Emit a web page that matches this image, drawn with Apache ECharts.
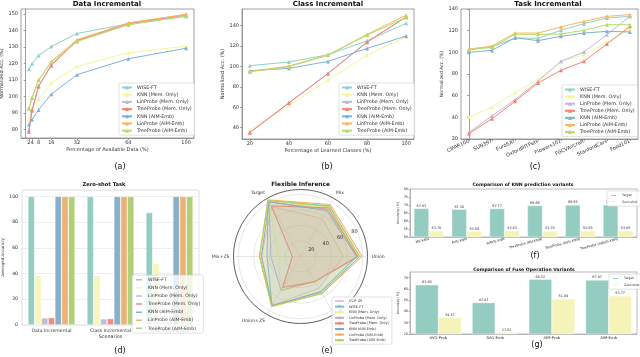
<!DOCTYPE html>
<html><head><meta charset="utf-8">
<script src="https://cdn.jsdelivr.net/npm/echarts@6/dist/echarts.min.js"></script>
<style>html,body{margin:0;padding:0;background:#fff}#c{width:640px;height:357px}</style>
</head><body><div id="c"></div>
<script>
// ---------- data ----------
const methods = ['WISE-FT','KNN (Mem. Only)','LinProbe (Mem. Only)','TreeProbe (Mem. Only)','KNN (AIM-Emb)','LinProbe (AIM-Emb)','TreeProbe (AIM-Emb)'];

// (a) Data Incremental
const aX = [2,4,8,16,32,64,100];
const aYTicks = [80,90,100,110,120,130,140,150];
const aWiseFT = [116.5,119.9,124.9,130.3,138.2,144,148.6];
const aKnnMem = [86,93,98.3,108.3,118.3,126.5,130.5];
const aLinMem = [80,91.5,106,119.5,133.5,144,149.2];
const aTreeMem = [78.8,91.8,106.3,118.9,134,144.4,149.6];
const aKnnAim = [83.2,86.2,92,101.5,113.3,122.9,129.3];
const aLinAim = [92.8,99.3,110,121.3,134.4,144.6,149.8];
const aTreeAim = [92.8,99.3,109.9,120.9,133.4,143.4,148.6];

// (b) Class Incremental
const bX = [20,40,60,80,100];
const bYTicks = [40,60,80,100,120,140];
const bWiseFT = [100.6,104.2,111.3,125,142];
const bKnnMem = [37.7,61.8,86.6,111,129];
const bLinMem = [35.5,64,93,124,148];
const bTreeMem = [35,64.4,93,123.5,148.5];
const bKnnAim = [95.7,98,104.8,117.5,129.6];
const bLinAim = [95,100.3,111,131.2,150];
const bTreeAim = [94.7,99.6,111,130.5,147.8];

// (c) Task Incremental
const cCats = ['CIFAR100','SUN397','EuroSAT','OxfordIIITPets','Flowers102','FGCVAircraft','StanfordCars','Food101'];
const cWiseFT = [102.5,105,113.2,113,120.3,126.5,131.7,133.2];
const cKnnMem = [40.3,49.5,63,74.8,91.4,97.8,109.2,121.5];
const cLinMem = [26.2,41.5,56.3,73.2,91.7,100.3,116.3,133.2];
const cTreeMem = [25,38.8,54.8,71.7,83.4,91.7,107.7,124];
const cKnnAim = [100,101.8,113.5,110.8,114.8,117.8,119.4,118.8];
const cLinAim = [103,105.8,117.8,117.8,123.4,128.6,133.2,134.8];
const cTreeAim = [102.5,104.6,116.6,116.6,117,120.3,125.5,125.5];

// (d) Zero-shot Task
const dCats = ['Data Incremental','Class Incremental','Task Incremental'];
const dWiseFT = [100,100,87.5];
const dKnnMem = [38.5,38.5,48];
const dLinMem = [5.5,4.8,2.5];
const dTreeMem = [5.8,5,2.5];
const dKnnAim = [100,100,100];
const dLinAim = [100,100,100];
const dTreeAim = [100,100,100];

// (e) Flexible Inference (radar)
const eAxes = ['Union','Mix','Target','Mix+ZS','Union+ZS',''];
const eNames = ['CLIP ZS'].concat(methods);
const eClip = [55,56,74,50,72,47];
const eWiseFT = [76,75,83,43,73,53];
const eKnnMem = [75,72,83,28,52,38];
const eLinMem = [74,70,81,38,50,37];
const eTreeMem = [73,72,75,10.5,46,37];
const eKnnAim = [72,68,81,50,73,52];
const eLinAim = [79,77,84,52,74,55];
const eTreeAim = [76,74,83,53,74,55];

// (f) KNN prediction variants
const fCats = ['MV-KNN','AVG-KNN','WAVG-KNN','TreeProbe (MV-KNN)','TreeProbe (AVG-KNN)','TreeProbe (WAVG-KNN)'];
const fTarget = [67.83,67.30,67.77,69.69,69.95,70.09];
const fZero = [53.78,53.59,53.83,53.78,53.85,53.85];

// (g) Fuse operation variants
const gCats = ['AVG-Prob','AVG-Emb','AIM-Prob','AIM-Emb'];
const gTarget = [63.60,47.87,68.52,67.87];
const gZero = [34.57,21.52,51.04,53.77];

// ---------- styles ----------
const FONT = 'DejaVu Sans';
const lineColors = ['#8dd3c7','#f5f59c','#bebada','#fb8072','#80b1d3','#fdb462','#b3de69'];
const barColors = ['#94ccc1','#f5f5bc','#bfbcd6','#ea8d83','#8aafc8','#eab375','#afcf78'];
const radarColors = ['#f6bcd3','#6cc9c0','#f0f08c','#b4b0d6','#f47c70','#7aaad0','#f9ab55','#a9d65e'];
const pairColors = ['#94ccc1','#f5f3b8'];

const aSets = [aWiseFT,aKnnMem,aLinMem,aTreeMem,aKnnAim,aLinAim,aTreeAim];
const bSets = [bWiseFT,bKnnMem,bLinMem,bTreeMem,bKnnAim,bLinAim,bTreeAim];
const cSets = [cWiseFT,cKnnMem,cLinMem,cTreeMem,cKnnAim,cLinAim,cTreeAim];
const dSets = [dWiseFT,dKnnMem,dLinMem,dTreeMem,dKnnAim,dLinAim,dTreeAim];
const eSets = [eClip,eWiseFT,eKnnMem,eLinMem,eTreeMem,eKnnAim,eLinAim,eTreeAim];

const chart = echarts.init(document.getElementById('c'), null, {renderer:'canvas'});

function grid(l,t,w,h,bc){return {left:l,top:t,width:w,height:h,show:true,borderColor:bc,borderWidth:0.8,backgroundColor:'transparent',containLabel:false,outerBoundsMode:'none'};}
const spine = {lineStyle:{color:'#888',width:0.8}};
const lbl = (fs)=>({fontSize:fs,color:'#333',fontFamily:FONT});

const grids = [
  grid(21,9,173,129,'#888'),
  grid(242,9,172,130,'#888'),
  grid(461,9,177,130,'#888'),
  grid(22,190,177,135,'#d8d8d8'),
  grid(410,189,227,48,'#aaa'),
  grid(410,272,227,62,'#aaa')
];

const xAxes = [
  {gridIndex:0,type:'value',min:-2.9,max:104.9,axisLine:{show:true,...spine},
   axisTick:{show:true,length:2,customValues:aX,...spine},axisLabel:{customValues:aX,margin:2,...lbl(5)},splitLine:{show:false},
   name:'Percentage of Available Data (%)',nameLocation:'middle',nameGap:9,nameTextStyle:lbl(5)},
  {gridIndex:1,type:'value',min:16,max:104,axisLine:{show:true,...spine},
   axisTick:{show:true,length:2,customValues:bX,...spine},axisLabel:{customValues:bX,margin:2,...lbl(5)},splitLine:{show:false},
   name:'Percentage of Learned Classes (%)',nameLocation:'middle',nameGap:9,nameTextStyle:lbl(5)},
  {gridIndex:2,type:'value',min:-0.35,max:7.35,axisLine:{show:true,...spine},
   axisTick:{show:true,length:2,customValues:cCats.map((c,i)=>i),...spine},
   axisLabel:{customValues:cCats.map((c,i)=>i),formatter:v=>cCats[Math.round(v)]||'',rotate:25,margin:2,...lbl(5)},splitLine:{show:false}},
  {gridIndex:3,type:'category',data:dCats,axisLine:{show:false},axisTick:{show:false},axisLabel:{margin:3,...lbl(4.6)},
   name:'Scenarios',nameLocation:'middle',nameGap:9,nameTextStyle:lbl(4.8)},
  {gridIndex:4,type:'category',data:fCats,axisLine:{show:true,lineStyle:{color:'#aaa',width:0.8}},axisTick:{show:false},
   axisLabel:{rotate:15,margin:2,interval:0,...lbl(3.4)}},
  {gridIndex:5,type:'category',data:gCats,axisLine:{show:true,lineStyle:{color:'#aaa',width:0.8}},axisTick:{show:false},
   axisLabel:{margin:2,interval:0,...lbl(3.8)}}
];

const yAxes = [
  {gridIndex:0,type:'value',min:75,max:153,axisLine:{show:true,...spine},axisTick:{show:true,length:2,customValues:aYTicks,...spine},
   axisLabel:{customValues:aYTicks,margin:3,...lbl(5)},splitLine:{show:false},
   name:'Normalized Acc. (%)',nameLocation:'middle',nameGap:14,nameTextStyle:lbl(5)},
  {gridIndex:1,type:'value',min:29,max:156,axisLine:{show:true,...spine},axisTick:{show:true,length:2,customValues:bYTicks,...spine},
   axisLabel:{customValues:bYTicks,margin:3,...lbl(5)},splitLine:{show:false},
   name:'Normalized Acc. (%)',nameLocation:'middle',nameGap:16,nameTextStyle:lbl(5)},
  {gridIndex:2,type:'value',min:20,max:140,interval:20,axisLine:{show:true,...spine},axisTick:{show:true,length:2,...spine},
   axisLabel:{margin:3,...lbl(5)},splitLine:{show:false},
   name:'Normalized Acc. (%)',nameLocation:'middle',nameGap:15,nameTextStyle:lbl(4.6)},
  {gridIndex:3,type:'value',min:0,max:105,interval:20,axisLine:{show:false},axisTick:{show:false},
   axisLabel:{margin:4,showMaxLabel:false,...lbl(4.6)},splitLine:{show:true,lineStyle:{color:'#e8e8e8',width:0.8}},
   name:'Averaged Accuracy',nameLocation:'middle',nameGap:15,nameTextStyle:lbl(4)},
  {gridIndex:4,type:'value',min:50,max:80,interval:5,axisLine:{show:true,lineStyle:{color:'#aaa',width:0.8}},axisTick:{show:true,length:1.5,lineStyle:{color:'#aaa'}},
   axisLabel:{margin:2,...lbl(3.4)},splitLine:{show:false},
   name:'Accuracy (%)',nameLocation:'middle',nameGap:9,nameTextStyle:lbl(3.4)},
  {gridIndex:5,type:'value',min:20,max:75,interval:10,axisLine:{show:true,lineStyle:{color:'#aaa',width:0.8}},axisTick:{show:true,length:1.5,lineStyle:{color:'#aaa'}},
   axisLabel:{margin:2,showMaxLabel:false,...lbl(3.4)},splitLine:{show:false},
   name:'Accuracy (%)',nameLocation:'middle',nameGap:9,nameTextStyle:lbl(3.4)}
];

const series = [];
function addLines(sets, tag, axisIdx, xs){
  sets.forEach((vals,i)=>{
    series.push({type:'line',name:methods[i]+'|'+tag,xAxisIndex:axisIdx,yAxisIndex:axisIdx,
      data:vals.map((v,j)=>[xs[j],v]),symbol:'triangle',symbolSize:4,
      lineStyle:{width:1,color:lineColors[i]},itemStyle:{color:lineColors[i]},color:lineColors[i],z:2+i*0.01});
  });
}
addLines(aSets,'a',0,aX);
addLines(bSets,'b',1,bX);
addLines(cSets,'c',2,cCats.map((c,i)=>i));

dSets.forEach((vals,i)=>{
  series.push({type:'bar',name:methods[i]+'|d',xAxisIndex:3,yAxisIndex:3,data:vals,
    barGap:'0%',barCategoryGap:'20%',itemStyle:{color:barColors[i],borderColor:'#fff',borderWidth:0.5},color:barColors[i]});
});

eSets.forEach((vals,i)=>{
  const closed = vals.concat([vals[0]]);
  series.push({type:'line',coordinateSystem:'polar',polarIndex:0,name:eNames[i]+'|e',
    data:closed.map((v,j)=>[v,j*60]),symbol:'none',
    lineStyle:{width:1,color:radarColors[i]},itemStyle:{color:radarColors[i]},color:radarColors[i],
    areaStyle:{color:radarColors[i],opacity:0.11},z:2+i*0.01});
});

const valLbl = {show:true,position:'top',distance:1,formatter:p=>p.value.toFixed(2),fontSize:3.4,color:'#333',fontFamily:FONT};
series.push({type:'bar',name:'Target|f',xAxisIndex:4,yAxisIndex:4,data:fTarget,barWidth:15,barGap:'0%',
  itemStyle:{color:pairColors[0],borderColor:'#fff',borderWidth:0.4},color:pairColors[0],label:valLbl});
series.push({type:'bar',name:'Zero-shot|f',xAxisIndex:4,yAxisIndex:4,data:fZero,barWidth:15,barGap:'0%',
  itemStyle:{color:pairColors[1],borderColor:'#fff',borderWidth:0.4},color:pairColors[1],label:valLbl});
series.push({type:'bar',name:'Target|g',xAxisIndex:5,yAxisIndex:5,data:gTarget,barWidth:23,barGap:'0%',
  itemStyle:{color:pairColors[0],borderColor:'#fff',borderWidth:0.4},color:pairColors[0],label:valLbl});
series.push({type:'bar',name:'Zero-shot|g',xAxisIndex:5,yAxisIndex:5,data:gZero,barWidth:23,barGap:'0%',
  itemStyle:{color:pairColors[1],borderColor:'#fff',borderWidth:0.4},color:pairColors[1],label:valLbl});

function legend(names,l,t,fs,iw,ih,gap,extra){
  return Object.assign({data:names,left:l,top:t,orient:'vertical',selectedMode:false,
    formatter:n=>n.split('|')[0],textStyle:{fontSize:fs,color:'#333',fontFamily:FONT},
    itemWidth:iw,itemHeight:ih,itemGap:gap,padding:[2,3,2,2],
    borderColor:'#ccc',borderWidth:0.6,borderRadius:1.5,backgroundColor:'rgba(255,255,255,0.8)'},extra||{});
}
const legends = [
  legend(methods.map(m=>m+'|a'),119,83,4.8,10,5,2.2),
  legend(methods.map(m=>m+'|b'),339,83,4.8,10,5,2.2),
  legend(methods.map(m=>m+'|c'),562,85,4.8,10,5,2.1),
  legend(methods.map(m=>m+'|d'),132,275,4.6,8,3.5,2.6),
  legend(eNames.map(m=>m+'|e'),332,297,3.5,9,3.4,1.6),
  legend(['Target|f','Zero-shot|f'],607,191,3.2,7,3,1.2),
  legend(['Target|g','Zero-shot|g'],609,274,3.2,7,3,1.2)
];

function txt(x,y,s,fs,bold){
  return {type:'text',x:x,y:y,silent:true,style:{text:s,x:0,y:0,align:'center',verticalAlign:'middle',
    font:(bold?'bold ':'')+fs+'px "'+FONT+'"',fill:'#111'}};
}
const graphics = [
  txt(107,4.5,'Data Incremental',7,true),
  txt(328,4.5,'Class Incremental',7,true),
  txt(548,4.5,'Task Incremental',7,true),
  txt(104,185,'Zero-shot Task',5.2,true),
  txt(300.5,184.5,'Flexible Inference',5.8,true),
  txt(523,184.7,'Comparison of KNN prediction variants',4.6,true),
  txt(524,269.7,'Comparison of Fuse Operation Variants',4.6,true),
  txt(120,167,'(a)',8),txt(327,167,'(b)',8),txt(535,167,'(c)',8),
  txt(120,351,'(d)',8),txt(327,351,'(e)',8),txt(535,256,'(f)',8),txt(537,345,'(g)',8)
];

const option = {
  animation:false,
  backgroundColor:'#fff',
  textStyle:{fontFamily:FONT},
  grid:grids, xAxis:xAxes, yAxis:yAxes,
  polar:[{center:[300.5,256.5],radius:67},{center:[300.5,256.5],radius:67}],
  angleAxis:[
    {polarIndex:0,type:'value',min:0,max:360,interval:60,startAngle:0,clockwise:false,
     axisLine:{show:true,lineStyle:{color:'#444',width:0.8}},axisTick:{show:false},
     axisLabel:{margin:4,formatter:v=>(v>=360?'':eAxes[Math.round(v/60)]),...lbl(4.6)},
     splitLine:{show:true,lineStyle:{color:'#dcdcdc',width:0.7}}},
    {polarIndex:1,type:'value',min:0,max:360,startAngle:22.5,clockwise:false,show:false}
  ],
  radiusAxis:[
    {polarIndex:0,min:0,max:86,interval:20,axisLine:{show:false},axisTick:{show:false},axisLabel:{show:false},
     splitLine:{show:true,lineStyle:{color:'#dcdcdc',width:0.7}}},
    {polarIndex:1,min:0,max:86,interval:20,axisLine:{show:false},axisTick:{show:false},
     axisLabel:{show:true,showMinLabel:false,showMaxLabel:false,margin:1,...lbl(5)},splitLine:{show:false},z:10}
  ],
  legend:legends,
  graphic:graphics,
  series:series
};
chart.setOption(option);
</script></body></html>
